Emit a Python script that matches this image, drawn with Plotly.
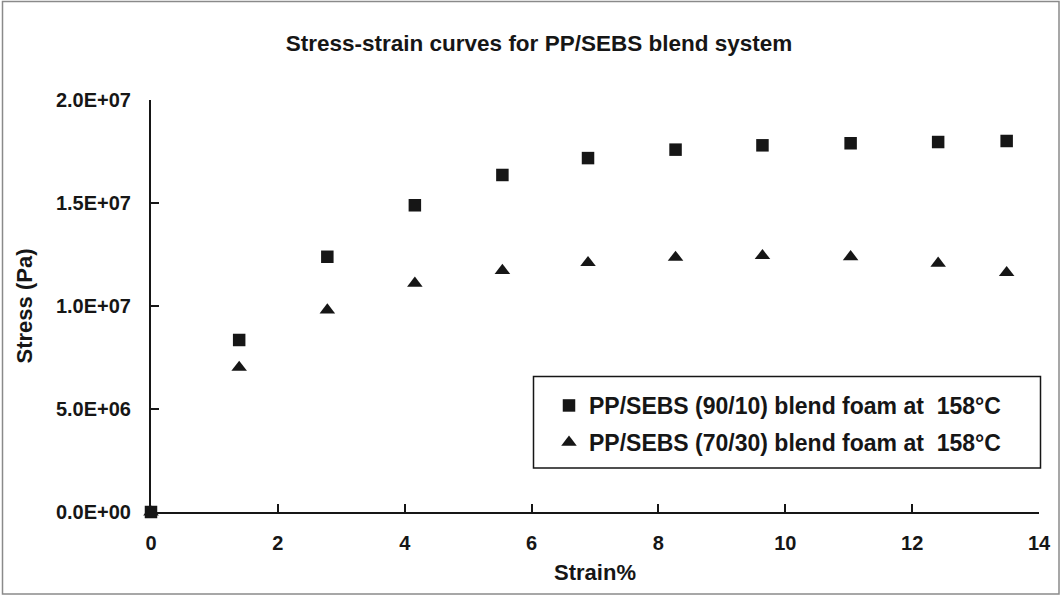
import plotly.graph_objects as go

# ---- data ----
strain = [0, 1.39, 2.78, 4.16, 5.54, 6.89, 8.27, 9.64, 11.03, 12.41, 13.49]
stress_90_10 = [0, 8.35e6, 12.39e6, 14.89e6, 16.36e6, 17.18e6, 17.59e6, 17.80e6, 17.90e6, 17.96e6, 18.01e6]
stress_70_30 = [0, 7.02e6, 9.80e6, 11.10e6, 11.72e6, 12.10e6, 12.36e6, 12.44e6, 12.39e6, 12.07e6, 11.62e6]
name_90_10 = "PP/SEBS (90/10) blend foam at  158°C"
name_70_30 = "PP/SEBS (70/30) blend foam at  158°C"
x_tickvals = [0, 2, 4, 6, 8, 10, 12, 14]
x_ticktext = ["0", "2", "4", "6", "8", "10", "12", "14"]
y_tickvals = [0, 5e6, 1e7, 1.5e7, 2e7]
y_ticktext = ["0.0E+00", "5.0E+06", "1.0E+07", "1.5E+07", "2.0E+07"]
title_text = "Stress-strain curves for PP/SEBS blend system"
x_title = "Strain%"
y_title = "Stress (Pa)"

FONT = "Liberation Sans, Arial, Helvetica, sans-serif"
INK = "#161616"

W, H = 1062, 596
L, R, T, B = 151, 23, 100, 84
PW = W - L - R
PH = H - T - B


def px_x(p):
    return (p - L) / PW


def px_y(p):
    return (H - B - p) / PH


fig = go.Figure()
fig.add_trace(go.Scatter(
    x=strain, y=stress_90_10, mode="markers", name=name_90_10,
    legendgroup="a",
    marker=dict(symbol="square", size=12.5, color=INK),
    cliponaxis=False,
))
fig.add_trace(go.Scatter(
    x=strain, y=stress_70_30, mode="markers", name=name_70_30,
    legendgroup="b",
    marker=dict(symbol="triangle-up", size=13.5, color=INK),
    cliponaxis=False,
))

axis_common = dict(
    showline=True, linecolor=INK, linewidth=2,
    ticks="inside", ticklen=8, tickwidth=2, tickcolor=INK,
    showgrid=False, zeroline=False,
    tickfont=dict(family=FONT, size=20, color=INK, weight="bold"),
    mirror=False,
)

fig.update_layout(
    width=W, height=H,
    margin=dict(l=L, r=R, t=T, b=B, autoexpand=False),
    paper_bgcolor="white", plot_bgcolor="white",
    title=dict(
        text=title_text, x=px_x(539), xref="paper", xanchor="center",
        y=1 - 43 / H, yref="container", yanchor="middle",
        font=dict(family=FONT, size=22.5, color=INK, weight="bold"),
    ),
    xaxis=dict(
        range=[0, 14], tickvals=x_tickvals, ticktext=x_ticktext,
        ticklabelstandoff=12,
        title=dict(text=x_title, standoff=12,
                   font=dict(family=FONT, size=22, color=INK, weight="bold")),
        **axis_common,
    ),
    yaxis=dict(
        range=[0, 2e7], tickvals=y_tickvals, ticktext=y_ticktext,
        ticklabelstandoff=14,
        title=dict(text=y_title, standoff=17,
                   font=dict(family=FONT, size=22, color=INK, weight="bold")),
        **axis_common,
    ),
    showlegend=True,
    legend=dict(
        x=px_x(549), y=px_y(384), xanchor="left", yanchor="top",
        bgcolor="rgba(0,0,0,0)", borderwidth=0,
        font=dict(family=FONT, size=23, color=INK, weight="bold"),
        tracegroupgap=4,
    ),
    shapes=[
        # legend frame
        dict(type="rect", xref="paper", yref="paper",
             x0=px_x(533.5), x1=px_x(1040.5), y0=px_y(468), y1=px_y(376.5),
             line=dict(color=INK, width=1.5), fillcolor="rgba(0,0,0,0)"),
        # outer frame of the picture
        dict(type="rect", xref="paper", yref="paper",
             x0=px_x(2.5), x1=px_x(1059), y0=px_y(594), y1=px_y(1.5),
             line=dict(color="#8a8a8a", width=1.5), fillcolor="rgba(0,0,0,0)"),
    ],
)

fig.write_html(
    "out.html",
    config={"displayModeBar": False},
    post_script="document.body.style.margin='0px';document.body.style.overflow='hidden';",
)
